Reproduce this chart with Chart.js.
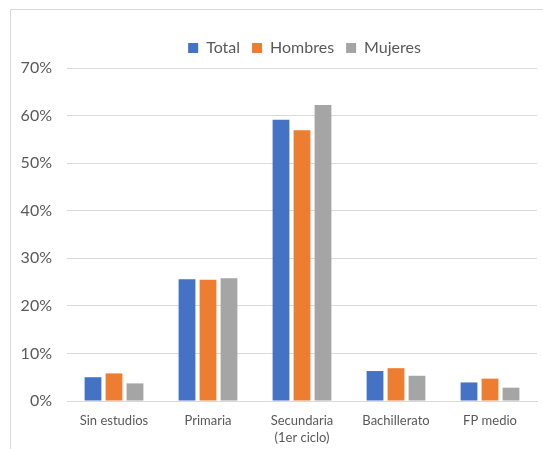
<!DOCTYPE html>
<html>
<head>
<meta charset="utf-8">
<script src="https://cdn.jsdelivr.net/npm/chart.js@4"></script>
<style>
  html, body { margin:0; padding:0; background:#fff; overflow:hidden; }
  body { width:543px; height:449px; position:relative; }
  .frame { position:absolute; left:10px; top:9px; width:620px; height:500px; border:1px solid #d9d9d9; }
  #chart { position:absolute; left:0; top:0; }
</style>
</head>
<body>
<div class="frame"></div>
<canvas id="chart" width="608" height="449"></canvas>
<script>
// nivel de estudios por sexo (%)
const categorias = ['Sin estudios', 'Primaria', ['Secundaria', '(1er ciclo)'], 'Bachillerato', 'FP medio'];
const total   = [5.0, 25.6, 59.1, 6.3, 3.9];
const hombres = [5.8, 25.5, 56.9, 6.9, 4.7];
const mujeres = [3.7, 25.8, 62.2, 5.3, 2.8];
const yTicks = [0, 10, 20, 30, 40, 50, 60, 70];

const gris = '#595959';
const fuente = 'Lato, "Open Sans", sans-serif';

function serie(label, data, color){
  return {
    label, data,
    backgroundColor: color,
    borderWidth: 0,
    categoryPercentage: 0.67,
    barPercentage: 0.8
  };
}

// centra la leyenda sobre todo el marco, no solo sobre el área con padding
const moverLeyenda = {
  id: 'moverLeyenda',
  afterLayout(chart){
    const lg = chart.legend;
    if(!lg) return;
    lg.left += 36; lg.right += 36;
    lg.top -= 2; lg.bottom -= 2;
  }
};

new Chart(document.getElementById('chart'), {
  type: 'bar',
  data: {
    labels: categorias,
    datasets: [
      serie('Total', total, '#4472C4'),
      serie('Hombres', hombres, '#ED7D31'),
      serie('Mujeres', mujeres, '#A5A5A5')
    ]
  },
  plugins: [moverLeyenda],
  options: {
    responsive: false,
    animation: false,
    layout: { padding: { top: 30, right: 71, bottom: 0, left: 0 } },
    plugins: {
      tooltip: { enabled: false },
      legend: {
        position: 'top',
        labels: {
          color: gris,
          font: { family: fuente, size: 16 },
          boxWidth: 10, boxHeight: 10,
          padding: 12
        }
      }
    },
    scales: {
      x: {
        grid: { display: false },
        border: { color: '#d9d9d9' },
        ticks: { color: gris, font: { family: fuente, size: 13, lineHeight: 1.25 }, padding: 4, maxRotation: 0 },
        afterFit: s => { s.height = 48; }
      },
      y: {
        min: 0, max: 70,
        afterBuildTicks: s => { s.ticks = yTicks.map(v => ({ value: v })); },
        grid: { color: '#d9d9d9', drawTicks: false },
        border: { display: false },
        ticks: { color: gris, font: { family: fuente, size: 16 }, padding: 15, callback: v => v + '%' },
        afterFit: s => { s.width = 67; }
      }
    }
  }
});
</script>
</body>
</html>
